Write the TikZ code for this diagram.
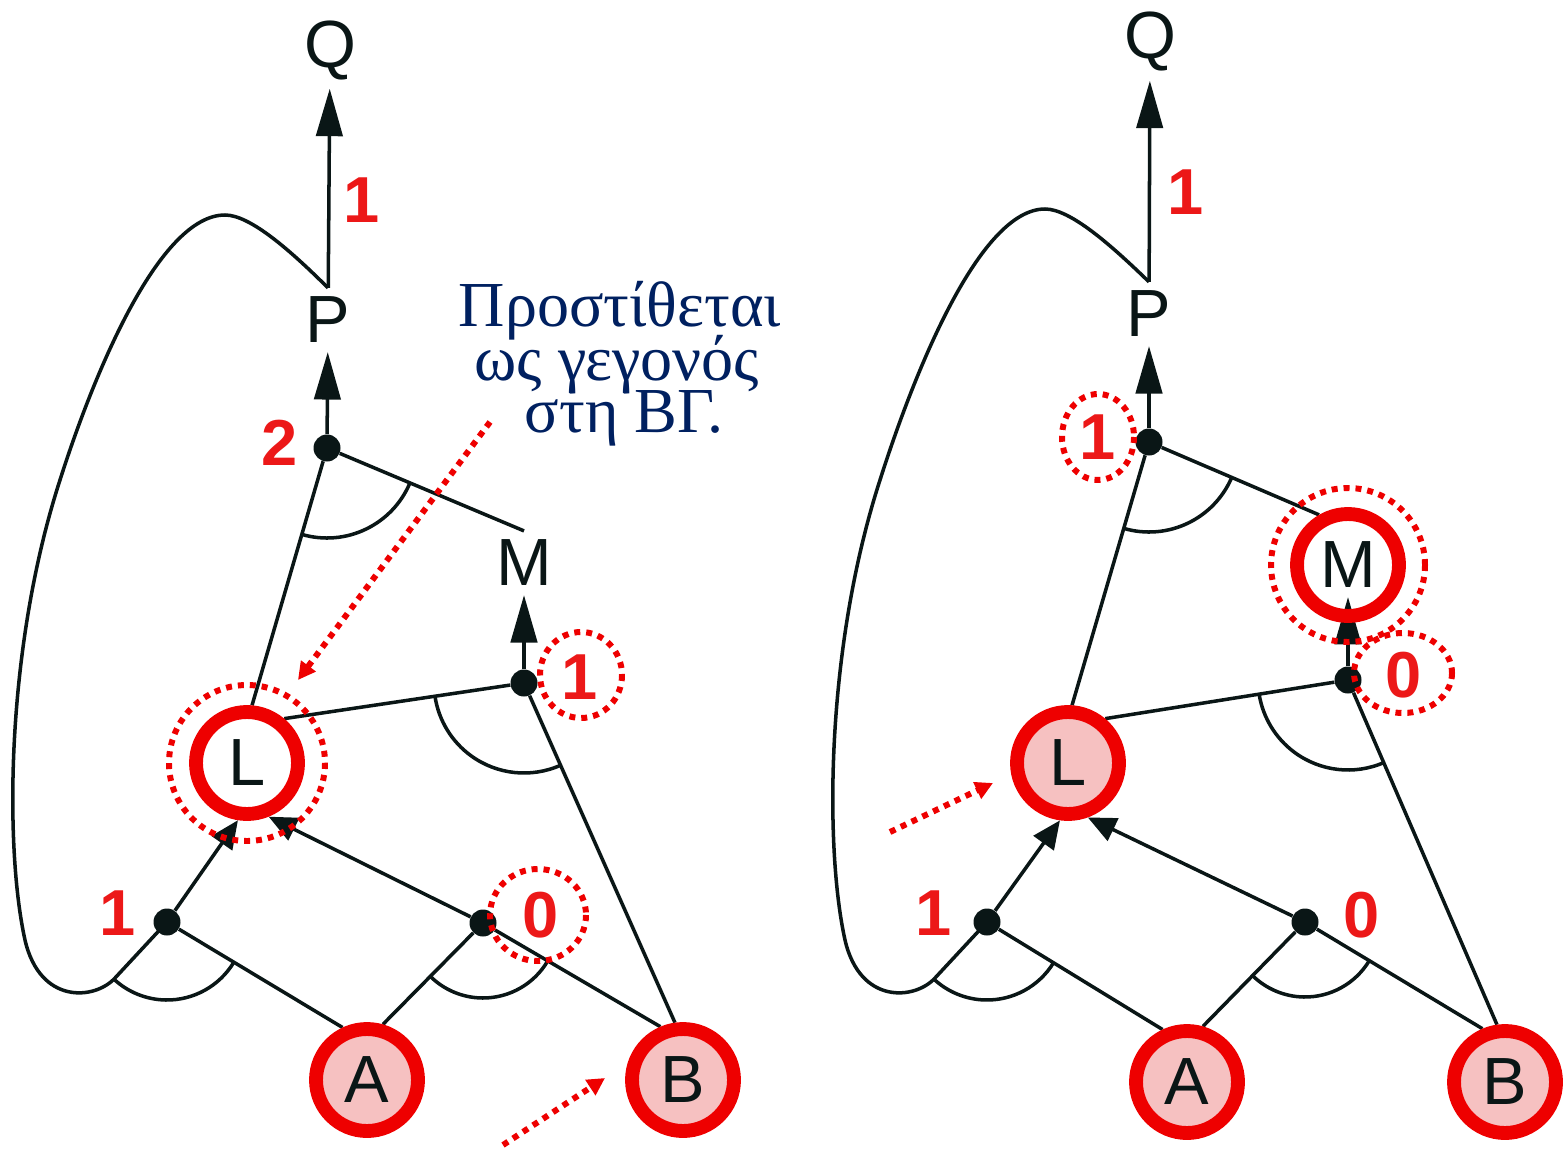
\documentclass[tikz,border=0pt]{standalone}
\usepackage{fontspec}
\setmainfont{Liberation Sans}
\newfontfamily\grkfont{Liberation Serif}
\usetikzlibrary{arrows.meta,backgrounds}
\definecolor{ringred}{RGB}{238,0,0}
\definecolor{pinkfill}{RGB}{246,193,193}
\definecolor{navy}{RGB}{0,32,96}
\definecolor{ink}{RGB}{10,22,22}
\definecolor{digred}{RGB}{236,24,24}
\begin{document}
\begin{tikzpicture}[x=0.02cm, y=-0.02cm,
  letter/.style={font=\fontsize{38}{40}\selectfont, inner sep=5pt, text=ink},
  ringbase/.style={circle, draw=ringred, line width=7.9pt, minimum size=2.04cm, inner sep=0pt, font=\fontsize{38}{40}\selectfont, text=ink},
  ringfill/.style={ringbase, fill=pinkfill},
  ringopen/.style={ringbase},
  anddot/.style={circle, fill=ink, minimum size=0.54cm, inner sep=0pt},
  digit/.style={font=\bfseries\fontsize{37}{40}\selectfont, text=digred, inner sep=0pt},
  ln/.style={draw=ink, line width=2pt},
  bigarr/.style={ln, -{Triangle[length=27pt,width=15pt]}},
  smallarr/.style={ln, -{Triangle[length=16pt,width=14pt]}},
  hilite/.style={draw=ringred, line width=3.4pt, dash pattern=on 3.4pt off 3.4pt},
  pointer/.style={hilite, -{Triangle[length=10pt,width=10pt]}},
  note/.style={font=\grkfont\fontsize{36.5}{40}\selectfont, text=navy, anchor=base, inner sep=0pt},
]
\useasboundingbox (0,0) rectangle (1564,1149);

% ================= LEFT GRAPH =================
\node[letter] (lQ) at (330,50) {Q};
\node[letter] (lP) at (328,320) {P};
\node[letter] (lM) at (524,563) {M};
\node[ringopen] (lL) at (247,763) {L};
\node[ringfill] (lA) at (367,1080) {A};
\node[ringfill] (lB) at (683,1080) {B};
\node[anddot] (lpand) at (327,448) {};
\node[anddot] (lmand) at (524,683) {};
\node[anddot] (land1) at (167,922) {};
\node[anddot] (land0) at (483,923) {};
\node[digit] (ld1) at (362,200) {1};
\node[digit] (ld2) at (280,443) {2};
\node[digit] (ld3) at (580,677) {1};
\node[digit] (ld4) at (118,913) {1};
\node[digit] (ld5) at (541,915) {0};

\begin{pgfonlayer}{background}
\draw[bigarr] (lP) -- (lQ);
\draw[bigarr] (lpand) -- (lP);
\draw[ln] (lpand) -- (lL.85);
\draw[ln] (lpand) -- (lM.north);
\draw[bigarr] (lmand) -- (lM);
\draw[ln] (lmand) -- (lL.50);
\draw[ln] (lmand) -- (lB.98);
\draw[smallarr] (land1) -- (lL.261);
\draw[smallarr] (land0) -- (lL.292);
\draw[ln] (land1) -- (lA.115);
\draw[ln] (land0) -- (lA.74);
\draw[ln] (land0) -- (lB.113);
\draw[ln] (land1.center) -- (115,978) .. controls (95,1000) and (40,1005) .. (25,940)
  .. controls (5,850) and (5,650) .. (60,480)
  .. controls (95,370) and (160,215) .. (225,215)
  .. controls (250,215) and (290,250) .. (lP.north);
\draw[ln] ([shift={(22.6:90)}]lpand.center) arc[start angle=22.6, end angle=106.3, radius=90];
\draw[ln] ([shift={(66:90)}]lmand.center) arc[start angle=66, end angle=171.5, radius=90];
\draw[ln] ([shift={(31:78)}]land1.center) arc[start angle=31, end angle=133, radius=78];
\draw[ln] ([shift={(30.3:75)}]land0.center) arc[start angle=30.3, end angle=134.6, radius=75];
\end{pgfonlayer}

\draw[hilite] (lL.center) circle[radius=78];
\draw[hilite] (581,675) ellipse[x radius=41, y radius=43];
\draw[hilite] (538,915) ellipse[x radius=48, y radius=46];
\coordinate (lp1s) at (490,422);
\coordinate (lp1e) at (298,680);
\draw[pointer] (lp1s) -- (lp1e);
\coordinate (lp2s) at (503,1145);
\coordinate (lp2e) at (605,1078);
\draw[pointer] (lp2s) -- (lp2e);

\node[note] (t1) at (620,326) {Προστίθεται};
\node[note] (t2) at (617,380) {ως γεγονός};
\node[note] (t3) at (624,432) {στη ΒΓ.};

% ================= RIGHT GRAPH =================
\node[letter] (rQ) at (1150,42) {Q};
\node[letter] (rP) at (1149,314) {P};
\node[ringopen] (rM) at (1348,565) {M};
\node[ringfill] (rL) at (1068,763) {L};
\node[ringfill] (rA) at (1187,1082) {A};
\node[ringfill] (rB) at (1505,1082) {B};
\node[anddot] (rpand) at (1149,442) {};
\node[anddot] (rmand) at (1348,680) {};
\node[anddot] (rand1) at (987,922) {};
\node[anddot] (rand0) at (1305,922) {};
\coordinate (rMtip) at (1348,597);
\node[digit] (rd1) at (1186,192) {1};
\node[digit] (rd2) at (1098,437) {1};
\node[digit] (rd3) at (1404,675) {0};
\node[digit] (rd4) at (934,913) {1};
\node[digit] (rd5) at (1362,915) {0};

\begin{pgfonlayer}{background}
\draw[bigarr] (rP) -- (rQ);
\draw[bigarr] (rpand) -- (rP);
\draw[ln] (rpand) -- (rL.86);
\draw[ln] (rpand) -- (rM.120);
\draw[bigarr] (rmand) -- (rMtip);
\draw[ln] (rmand) -- (rL.50);
\draw[ln] (rmand) -- (rB.98);
\draw[smallarr] (rand1) -- (rL.262);
\draw[smallarr] (rand0) -- (rL.290);
\draw[ln] (rand1) -- (rA.115);
\draw[ln] (rand0) -- (rA.74);
\draw[ln] (rand0) -- (rB.113);
\draw[ln] (rand1.center) -- (935,978) .. controls (915,1000) and (860,1005) .. (845,940)
  .. controls (825,850) and (825,650) .. (880,480)
  .. controls (915,370) and (980,209) .. (1045,209)
  .. controls (1070,209) and (1110,244) .. (rP.north);
\draw[ln] ([shift={(23:90)}]rpand.center) arc[start angle=23, end angle=106.3, radius=90];
\draw[ln] ([shift={(66.6:90)}]rmand.center) arc[start angle=66.6, end angle=171, radius=90];
\draw[ln] ([shift={(31.5:78)}]rand1.center) arc[start angle=31.5, end angle=133, radius=78];
\draw[ln] ([shift={(31:75)}]rand0.center) arc[start angle=31, end angle=134.4, radius=75];
\end{pgfonlayer}

\draw[hilite] (rM.center) circle[radius=77];
\draw[hilite] (1098,437) ellipse[x radius=36, y radius=43];
\draw[hilite] (1403,673) ellipse[x radius=49, y radius=40];
\coordinate (rp1s) at (890,832);
\coordinate (rp1e) at (993,783);
\draw[pointer] (rp1s) -- (rp1e);
\end{tikzpicture}
\end{document}
